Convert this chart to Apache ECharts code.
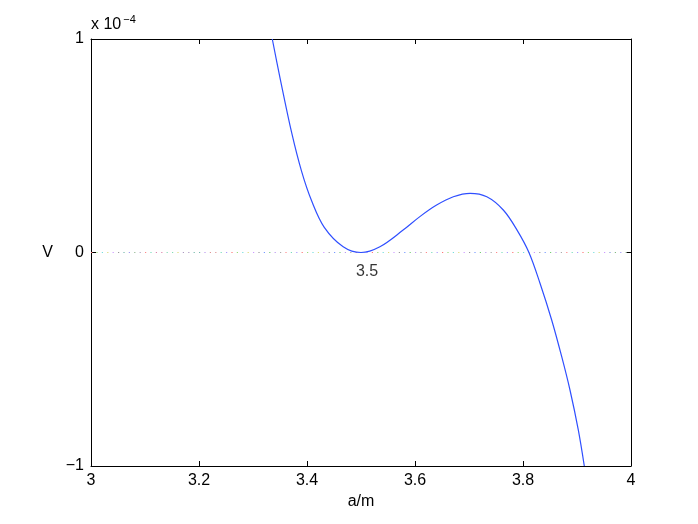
<!DOCTYPE html>
<html>
<head>
<meta charset="utf-8">
<script src="https://cdn.jsdelivr.net/npm/echarts@6/dist/echarts.min.js"></script>
<style>
html,body{margin:0;padding:0;background:#fff;}
#chart{width:698px;height:524px;}
</style>
</head>
<body>
<div id="chart"></div>
<script>
// Data (V in units of 1e-4)
var aValues = [3.3357, 3.350, 3.3717, 3.390, 3.4087, 3.432, 3.467, 3.500, 3.535, 3.578, 3.609, 3.640, 3.671, 3.702, 3.733, 3.7635, 3.789, 3.811, 3.8315, 3.8531, 3.8717, 3.887, 3.9024, 3.9135];
var vValues = [1.000, 0.818, 0.560, 0.380, 0.241, 0.118, 0.027, 0.000, 0.027, 0.105, 0.168, 0.222, 0.261, 0.277, 0.261, 0.199, 0.105, 0.000, -0.144, -0.316, -0.488, -0.644, -0.831, -1.000];
var minLabel = '3.5';
var minIndex = 7;
var zeroLine = [[3, 0], [4, 0]];
var xTicks = {min: 3, max: 4, interval: 0.2};
var yTicks = {min: -1, max: 1, interval: 1};

var FONT = 'Liberation Sans, Arial, Helvetica, sans-serif';
var FS = 16;

var curveData = aValues.map(function (a, i) { return [a, vValues[i]]; });

// multicolour dotted zero line (style only)
var palette = ['#ff7777','#99dd77','#77dddd','#dddd77','#cc99ff','#999999','#7799ff','#77cc77','#bb99ee','#aaaaaa','#ff8888','#77ddbb','#aa99ff'];
var gx0 = 91, gw = 540, step = 5.4;
var stops = [];
for (var i = 0; i <= 100; i++) {
  var c = palette[i % palette.length];
  var s = Math.max(0, (i * step - step / 2) / gw);
  var e = Math.min(1, (i * step + step / 2) / gw);
  stops.push({offset: s, color: c});
  stops.push({offset: e, color: c});
}

function yFmt(v) {
  var r = Math.round(v);
  return r < 0 ? '\u2212' + Math.abs(r) : String(r);
}

var axisLineStyle = {show: true, onZero: false, lineStyle: {color: '#000', width: 1}};
var tickStyle = {show: true, inside: true, length: 5, lineStyle: {color: '#000'}};
var chart = echarts.init(document.getElementById('chart'), null, {renderer: 'canvas'});
chart.setOption({
  animation: false,
  backgroundColor: '#fff',
  grid: {left: 91, top: 39, right: 67, bottom: 58, containLabel: false},
  xAxis: [{
    type: 'value', min: xTicks.min, max: xTicks.max, interval: xTicks.interval,
    position: 'bottom',
    name: 'a/m', nameLocation: 'middle', nameGap: 28,
    nameTextStyle: {color: '#000', fontSize: FS, fontFamily: FONT},
    axisLine: axisLineStyle,
    axisTick: tickStyle,
    axisLabel: {color: '#000', fontSize: FS, fontFamily: FONT, margin: 7},
    splitLine: {show: false}
  }, {
    type: 'value', min: xTicks.min, max: xTicks.max, interval: xTicks.interval,
    position: 'top',
    axisLine: axisLineStyle,
    axisTick: tickStyle,
    axisLabel: {show: false},
    splitLine: {show: false}
  }],
  yAxis: [{
    type: 'value', min: yTicks.min, max: yTicks.max, interval: yTicks.interval,
    position: 'left',
    name: 'V', nameLocation: 'middle', nameGap: 38, nameRotate: 0,
    nameTextStyle: {color: '#000', fontSize: FS, fontFamily: FONT},
    axisLine: axisLineStyle,
    axisTick: tickStyle,
    axisLabel: {color: '#000', fontSize: FS, fontFamily: FONT, margin: 7, formatter: yFmt},
    splitLine: {show: false}
  }, {
    type: 'value', min: yTicks.min, max: yTicks.max, interval: yTicks.interval,
    position: 'right',
    axisLine: axisLineStyle,
    axisTick: tickStyle,
    axisLabel: {show: false},
    splitLine: {show: false}
  }],
  graphic: [{
    type: 'text', left: 91, top: 14,
    style: {
      text: '{b|x 10}{s|\u22124}',
      rich: {
        b: {fontSize: FS, fontFamily: FONT, fill: '#000', verticalAlign: 'bottom', height: 20},
        s: {fontSize: 11, fontFamily: FONT, fill: '#000', verticalAlign: 'top', padding: [0, 0, 10, 2]}
      }
    }
  }],
  series: [{
    type: 'line',
    data: zeroLine,
    symbol: 'none',
    silent: true,
    lineStyle: {
      width: 1.2,
      type: [1.2, 4.2],
      color: {type: 'linear', x: gx0, y: 0, x2: gx0 + gw, y2: 0, global: true, colorStops: stops}
    },
    z: 1
  }, {
    type: 'line',
    data: curveData,
    smooth: 0.35,
    symbol: 'none',
    showSymbol: false,
    clip: true,
    lineStyle: {color: '#2f4fff', width: 1.2},
    z: 2
  }, {
    type: 'scatter',
    data: [[aValues[minIndex], vValues[minIndex]]],
    symbolSize: 0,
    silent: true,
    label: {show: true, formatter: minLabel, position: 'bottom', offset: [6, 6],
      color: '#000', fontSize: FS, fontFamily: FONT},
    z: 3
  }]
});
</script>
</body>
</html>
